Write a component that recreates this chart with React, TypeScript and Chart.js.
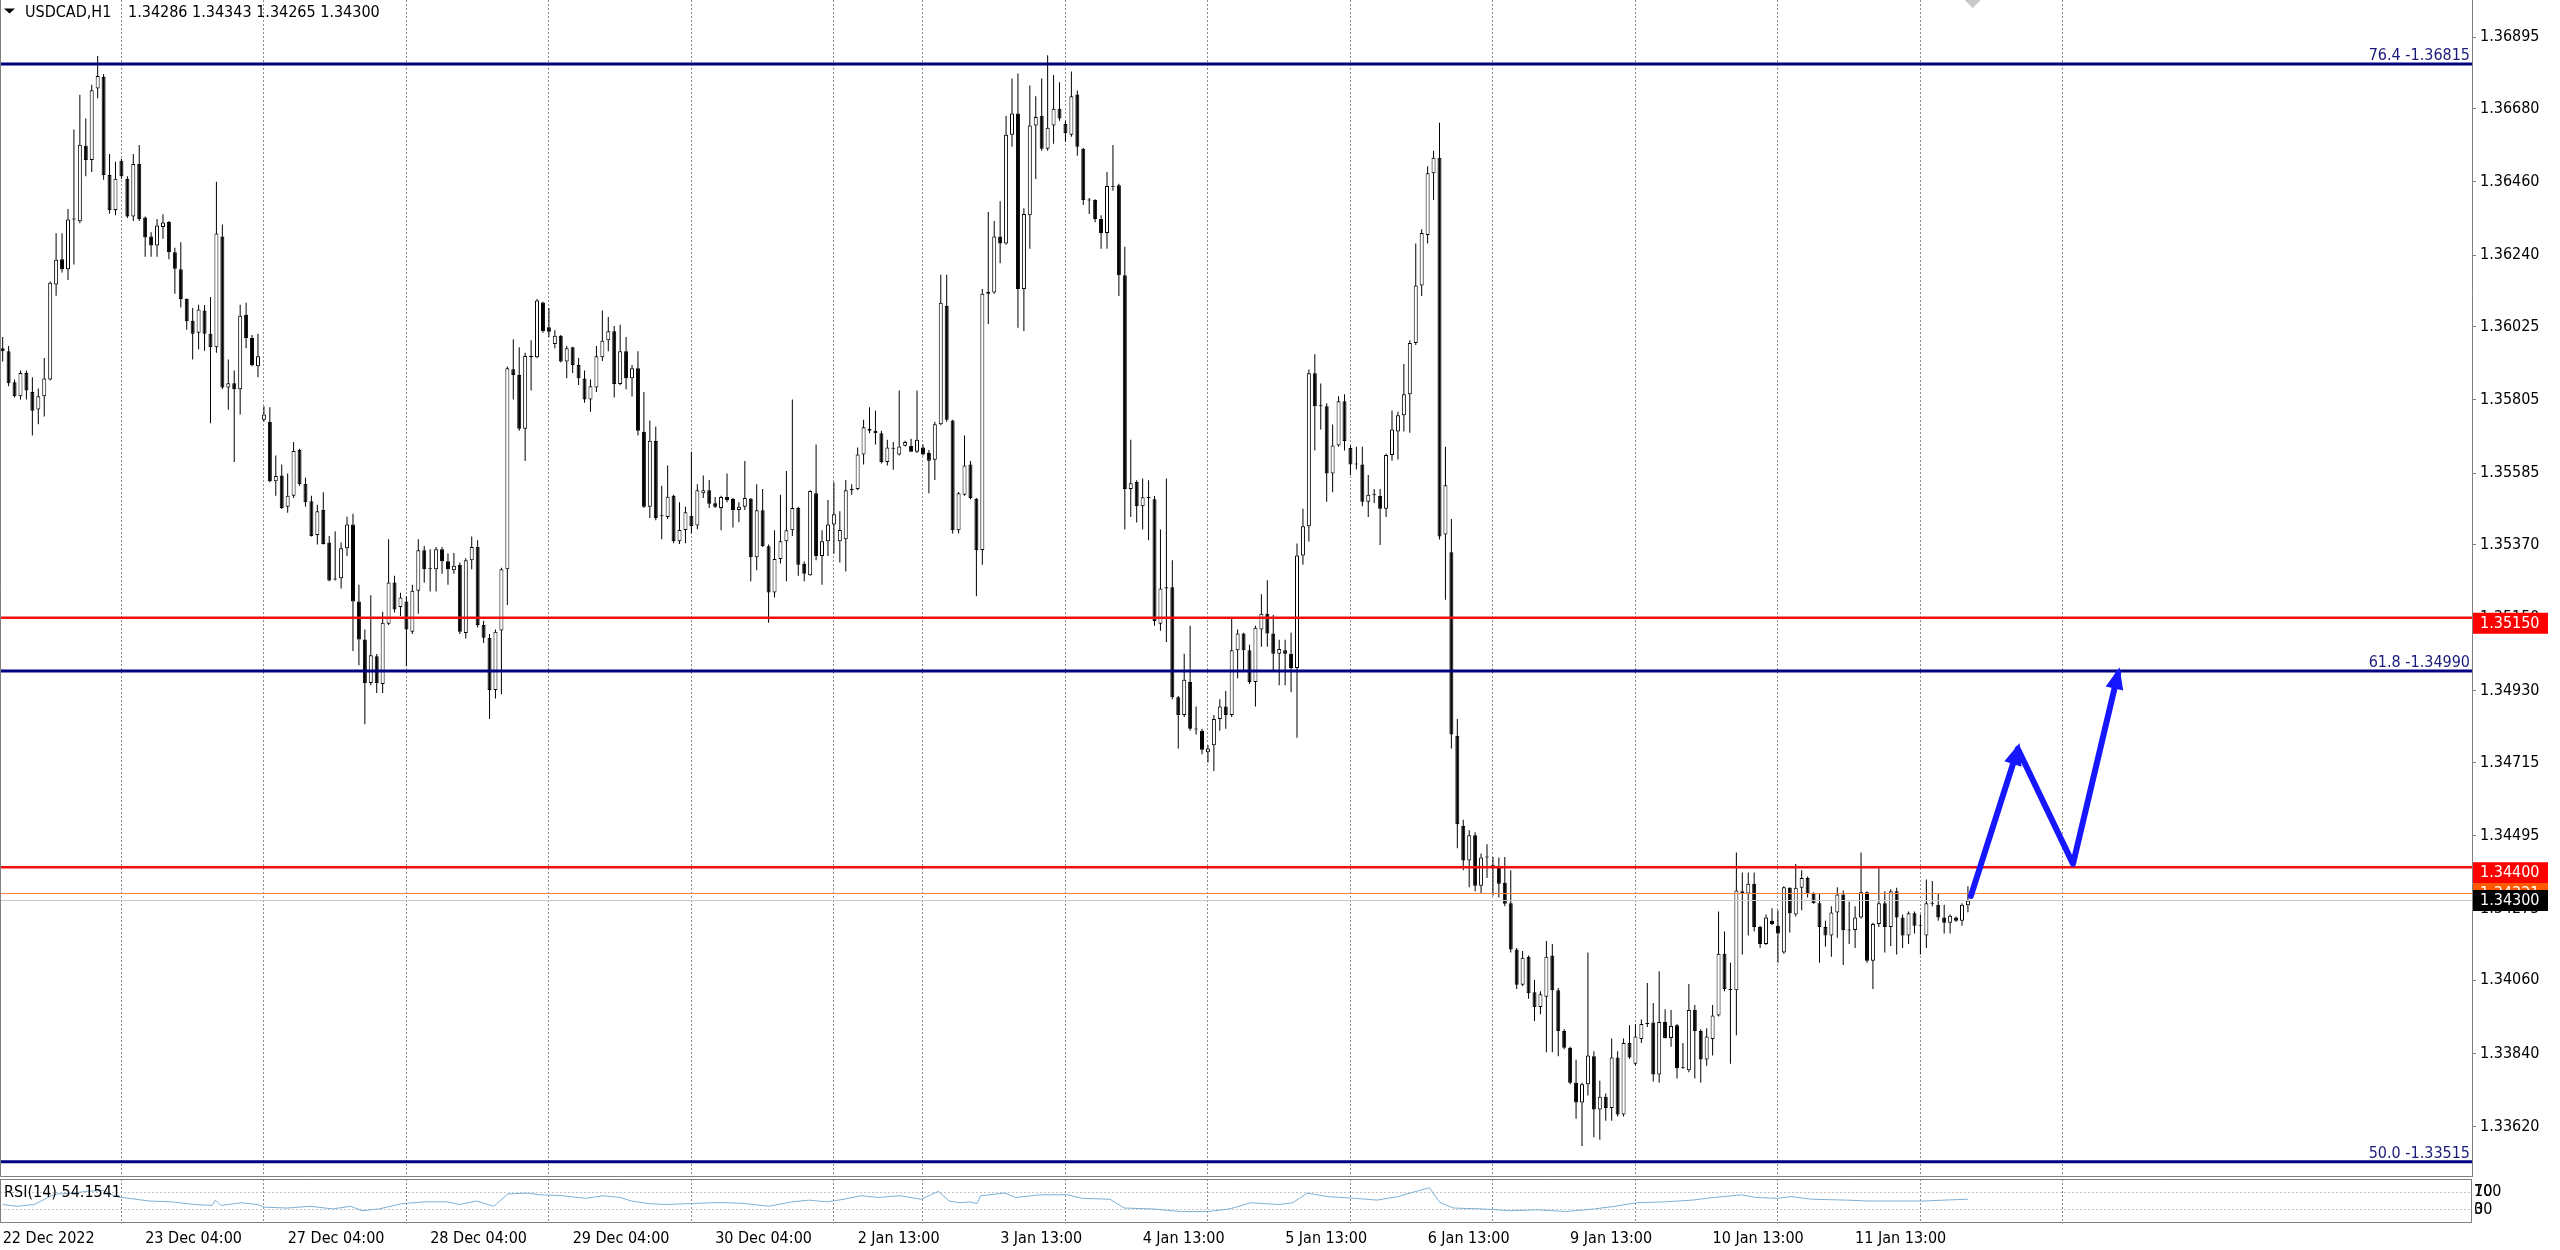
import React, { useEffect, useRef } from 'react';
import { Chart, registerables } from 'chart.js';

Chart.register(...registerables);

const FONT_FAMILY = "'DejaVu Sans Condensed', 'DejaVu Sans', sans-serif";
const FONT_SIZE = 16;

// ---- Candles: USDCAD H1 (bar index 0 = 22 Dec 2022 04:00) ----
const opens = [
1.35960,1.35951,1.35858,1.35816,1.35886,1.35829,1.35776,1.35816,1.35866,1.36152,
1.36228,1.36198,1.36347,1.36342,1.36569,1.36526,1.36741,1.36776,1.36481,1.36376,
1.36524,1.36470,1.36356,1.36514,1.36353,1.36296,1.36269,1.36325,1.36340,1.36249,
1.36198,1.36108,1.36043,1.36007,1.36074,1.36004,1.35963,1.36296,1.35842,1.35855,
1.35837,1.36061,1.35991,1.35906,1.35745,1.35739,1.35560,1.35578,1.35484,1.35517,
1.35654,1.35553,1.35500,1.35399,1.35474,1.35376,1.35266,1.35269,1.35359,1.35430,
1.35199,1.35085,1.34954,1.35034,1.34951,1.35132,1.35256,1.35182,1.35199,1.35108,
1.35231,1.35353,1.35296,1.35296,1.35356,1.35320,1.35293,1.35309,1.35104,1.35323,
1.35363,1.35128,1.35090,1.34933,1.35112,1.35296,1.35897,1.35880,1.35718,1.35937,
1.35933,1.36098,1.36023,1.35973,1.35998,1.35920,1.35963,1.35910,1.35869,1.35806,
1.35842,1.35933,1.35984,1.36011,1.35853,1.35951,1.35870,1.35900,1.35709,1.35484,
1.35681,1.35457,1.35453,1.35517,1.35380,1.35414,1.35457,1.35427,1.35524,1.35533,
1.35494,1.35480,1.35513,1.35508,1.35474,1.35484,1.35508,1.35332,1.35473,1.35365,
1.35226,1.35327,1.35380,1.35413,1.35480,1.35312,1.35278,1.35524,1.35336,1.35380,
1.35430,1.35380,1.35386,1.35533,1.35537,1.35641,1.35718,1.35712,1.35705,1.35618,
1.35658,1.35641,1.35667,1.35667,1.35649,1.35662,1.35645,1.35625,1.35732,1.36087,
1.35743,1.35413,1.35520,1.35611,1.35508,1.35354,1.36124,1.36128,1.36296,1.36275,
1.36602,1.36666,1.36138,1.36360,1.36630,1.36659,1.36560,1.36630,1.36680,1.36634,
1.36602,1.36723,1.36560,1.36406,1.36406,1.36349,1.36307,1.36448,1.36450,1.36180,
1.35537,1.35558,1.35485,1.35512,1.35506,1.35132,1.35238,1.35242,1.34911,1.34858,
1.34957,1.34816,1.34810,1.34746,1.34767,1.34846,1.34883,1.34858,1.35052,1.35103,
1.35052,1.34957,1.35115,1.35162,1.35103,1.35042,1.35052,1.35042,1.34999,1.35337,
1.35425,1.35885,1.35786,1.35786,1.35584,1.35668,1.35801,1.35660,1.35611,1.35611,
1.35499,1.35520,1.35516,1.35478,1.35639,1.35710,1.35759,1.35822,1.35976,1.36149,
1.36301,1.36486,1.36533,1.35400,1.35347,1.34795,1.34524,1.34420,1.34496,1.34344,
1.34429,1.34406,1.34401,1.34353,1.34292,1.34153,1.34047,1.34131,1.34024,1.33980,
1.34011,1.34135,1.34030,1.33908,1.33857,1.33752,1.33693,1.33748,1.33832,1.33672,
1.33710,1.33676,1.33828,1.33657,1.33872,1.33809,1.33884,1.33929,1.33933,1.33777,
1.33935,1.33887,1.33925,1.33796,1.33790,1.33971,1.33908,1.33822,1.33884,1.33954,
1.34140,1.34034,1.34030,1.34328,1.34321,1.34350,1.34220,1.34169,1.34239,1.34224,
1.34144,1.34338,1.34258,1.34338,1.34368,1.34321,1.34292,1.34220,1.34195,1.34264,
1.34318,1.34211,1.34211,1.34249,1.34325,1.34119,1.34229,1.34292,1.34220,1.34328,
1.34249,1.34195,1.34262,1.34224,1.34195,1.34292,1.34287,1.34249,1.34233,1.34249,
1.34239,1.34286];

const highs = [
1.35994,1.35967,1.35866,1.35893,1.35893,1.35873,1.35839,1.35931,1.36161,1.36306,
1.36306,1.36379,1.36618,1.36722,1.36651,1.36752,1.36839,1.36785,1.36544,1.36521,
1.36530,1.36477,1.36544,1.36571,1.36356,1.36309,1.36349,1.36363,1.36343,1.36262,
1.36279,1.36110,1.36081,1.36091,1.36090,1.36114,1.36461,1.36332,1.35926,1.35893,
1.36091,1.36097,1.36000,1.36004,1.35786,1.35783,1.35638,1.35611,1.35584,1.35678,
1.35658,1.35571,1.35517,1.35490,1.35527,1.35396,1.35410,1.35376,1.35454,1.35463,
1.35249,1.35115,1.35218,1.35041,1.35168,1.35386,1.35276,1.35225,1.35215,1.35249,
1.35386,1.35366,1.35356,1.35363,1.35363,1.35343,1.35345,1.35316,1.35329,1.35394,
1.35383,1.35141,1.35101,1.35115,1.35300,1.35905,1.35987,1.35963,1.35947,1.35984,
1.36108,1.36100,1.36081,1.36014,1.36000,1.35967,1.35965,1.35931,1.35893,1.35866,
1.35967,1.36074,1.36054,1.36027,1.36031,1.35994,1.35910,1.35951,1.35829,1.35743,
1.35725,1.35547,1.35608,1.35520,1.35497,1.35484,1.35649,1.35551,1.35578,1.35564,
1.35513,1.35517,1.35584,1.35510,1.35497,1.35621,1.35510,1.35551,1.35537,1.35370,
1.35413,1.35520,1.35591,1.35806,1.35484,1.35319,1.35533,1.35671,1.35413,1.35504,
1.35557,1.35470,1.35564,1.35551,1.35662,1.35745,1.35783,1.35772,1.35712,1.35685,
1.35678,1.35833,1.35682,1.35688,1.35833,1.35671,1.35654,1.35739,1.36181,1.36181,
1.35745,1.35528,1.35698,1.35621,1.35510,1.36138,1.36370,1.36343,1.36402,1.36659,
1.36771,1.36786,1.36381,1.36750,1.36718,1.36771,1.36841,1.36782,1.36760,1.36644,
1.36792,1.36735,1.36562,1.36412,1.36408,1.36360,1.36490,1.36571,1.36455,1.36265,
1.35685,1.35563,1.35569,1.35563,1.35516,1.35415,1.35569,1.35323,1.34915,1.35042,
1.35126,1.34883,1.34816,1.34767,1.34858,1.34905,1.34930,1.35147,1.35115,1.35105,
1.35069,1.35126,1.35221,1.35263,1.35158,1.35084,1.35084,1.35105,1.35373,1.35478,
1.35896,1.35942,1.35854,1.35795,1.35731,1.35816,1.35822,1.35668,1.35664,1.35664,
1.35579,1.35537,1.35537,1.35643,1.35773,1.35769,1.35913,1.35984,1.36275,1.36318,
1.36507,1.36554,1.36638,1.35664,1.35447,1.34846,1.34543,1.34511,1.34505,1.34441,
1.34469,1.34431,1.34429,1.34431,1.34391,1.34157,1.34148,1.34135,1.34062,1.34027,
1.34178,1.34169,1.34037,1.33913,1.33860,1.33821,1.33752,1.34144,1.33847,1.33758,
1.33720,1.33885,1.33847,1.33885,1.33925,1.33929,1.33942,1.34052,1.33992,1.34087,
1.33973,1.33971,1.33929,1.33872,1.34049,1.33986,1.33913,1.33916,1.33986,1.34267,
1.34207,1.34113,1.34444,1.34384,1.34384,1.34384,1.34224,1.34258,1.34277,1.34271,
1.34343,1.34340,1.34410,1.34391,1.34372,1.34325,1.34321,1.34239,1.34283,1.34340,
1.34330,1.34296,1.34283,1.34444,1.34328,1.34233,1.34397,1.34328,1.34334,1.34338,
1.34258,1.34267,1.34267,1.34258,1.34363,1.34359,1.34321,1.34287,1.34258,1.34252,
1.34292,1.34343];

const lows = [
1.35920,1.35846,1.35812,1.35806,1.35806,1.35698,1.35732,1.35755,1.35863,1.36118,
1.36188,1.36165,1.36212,1.36336,1.36477,1.36490,1.36712,1.36467,1.36365,1.36360,
1.36470,1.36352,1.36343,1.36343,1.36235,1.36235,1.36235,1.36289,1.36228,1.36124,
1.36083,1.36016,1.35926,1.35957,1.35953,1.35735,1.35947,1.35837,1.35775,1.35618,
1.35761,1.35960,1.35906,1.35873,1.35739,1.35557,1.35517,1.35477,1.35466,1.35510,
1.35547,1.35484,1.35394,1.35370,1.35370,1.35260,1.35262,1.35238,1.35336,1.35050,
1.35007,1.34830,1.34947,1.34924,1.34924,1.35128,1.35166,1.35155,1.35004,1.35101,
1.35162,1.35255,1.35229,1.35229,1.35282,1.35249,1.35282,1.35101,1.35088,1.35296,
1.35121,1.35074,1.34846,1.34907,1.34920,1.35188,1.35806,1.35712,1.35621,1.35833,
1.35930,1.36007,1.35994,1.35960,1.35917,1.35870,1.35886,1.35850,1.35796,1.35769,
1.35829,1.35922,1.35951,1.35812,1.35849,1.35837,1.35815,1.35698,1.35480,1.35450,
1.35443,1.35386,1.35447,1.35374,1.35372,1.35374,1.35403,1.35416,1.35510,1.35480,
1.35480,1.35413,1.35497,1.35421,1.35437,1.35474,1.35260,1.35293,1.35363,1.35135,
1.35211,1.35313,1.35260,1.35396,1.35276,1.35260,1.35276,1.35323,1.35249,1.35336,
1.35343,1.35316,1.35289,1.35520,1.35533,1.35611,1.35705,1.35671,1.35614,1.35608,
1.35595,1.35638,1.35665,1.35649,1.35645,1.35638,1.35524,1.35564,1.35729,1.35739,
1.35403,1.35403,1.35517,1.35506,1.35215,1.35309,1.36033,1.36124,1.36216,1.36271,
1.36566,1.36022,1.36012,1.36259,1.36469,1.36554,1.36554,1.36575,1.36644,1.36581,
1.36596,1.36539,1.36391,1.36364,1.36339,1.36259,1.36259,1.36434,1.36117,1.35415,
1.35453,1.35436,1.35415,1.35383,1.35126,1.35111,1.35077,1.34905,1.34757,1.34852,
1.34810,1.34799,1.34740,1.34715,1.34689,1.34810,1.34816,1.34852,1.34968,1.34993,
1.34951,1.34883,1.35063,1.35063,1.34993,1.34947,1.34947,1.34926,1.34789,1.35309,
1.35379,1.35653,1.35716,1.35499,1.35527,1.35664,1.35653,1.35579,1.35596,1.35485,
1.35453,1.35495,1.35369,1.35453,1.35622,1.35626,1.35710,1.35706,1.35970,1.36117,
1.36275,1.36406,1.35385,1.35204,1.34757,1.34457,1.34391,1.34340,1.34328,1.34321,
1.34368,1.34315,1.34309,1.34283,1.34144,1.34034,1.34043,1.34005,1.33938,1.33958,
1.33844,1.33844,1.33832,1.33853,1.33748,1.33644,1.33562,1.33714,1.33588,1.33581,
1.33638,1.33638,1.33651,1.33651,1.33824,1.33803,1.33872,1.33920,1.33756,1.33752,
1.33885,1.33860,1.33765,1.33794,1.33784,1.33765,1.33752,1.33803,1.33834,1.33951,
1.34027,1.33809,1.33895,1.34138,1.34195,1.34207,1.34157,1.34166,1.34226,1.34113,
1.34140,1.34204,1.34252,1.34271,1.34309,1.34290,1.34113,1.34161,1.34131,1.34188,
1.34106,1.34169,1.34157,1.34245,1.34113,1.34034,1.34220,1.34144,1.34163,1.34138,
1.34157,1.34169,1.34201,1.34138,1.34157,1.34283,1.34239,1.34201,1.34201,1.34236,
1.34224,1.34265];

const closes = [
1.35951,1.35855,1.35816,1.35886,1.35833,1.35772,1.35816,1.35869,1.36157,1.36226,
1.36198,1.36347,1.36349,1.36572,1.36526,1.36736,1.36779,1.36481,1.36376,1.36470,
1.36477,1.36356,1.36514,1.36349,1.36293,1.36269,1.36329,1.36338,1.36249,1.36199,
1.36108,1.36041,1.36004,1.36077,1.36004,1.35964,1.36305,1.35842,1.35855,1.35837,
1.36058,1.35991,1.35909,1.35936,1.35761,1.35560,1.35576,1.35480,1.35517,1.35651,
1.35551,1.35497,1.35396,1.35470,1.35372,1.35262,1.35265,1.35359,1.35430,1.35199,
1.35085,1.34954,1.35037,1.34954,1.35135,1.35256,1.35175,1.35211,1.35115,1.35231,
1.35353,1.35296,1.35297,1.35356,1.35320,1.35296,1.35306,1.35108,1.35323,1.35363,
1.35128,1.35090,1.34933,1.35108,1.35296,1.35900,1.35880,1.35718,1.35937,1.35933,
1.36104,1.36011,1.36010,1.35998,1.35920,1.35960,1.35910,1.35870,1.35806,1.35846,
1.35936,1.35983,1.36011,1.35853,1.35951,1.35870,1.35900,1.35712,1.35484,1.35682,
1.35450,1.35455,1.35514,1.35380,1.35414,1.35467,1.35426,1.35533,1.35533,1.35493,
1.35484,1.35513,1.35504,1.35474,1.35484,1.35510,1.35332,1.35473,1.35365,1.35226,
1.35327,1.35380,1.35413,1.35480,1.35309,1.35282,1.35531,1.35336,1.35380,1.35430,
1.35461,1.35414,1.35533,1.35537,1.35641,1.35723,1.35712,1.35705,1.35618,1.35662,
1.35660,1.35665,1.35678,1.35649,1.35685,1.35641,1.35622,1.35732,1.36097,1.35745,
1.35413,1.35524,1.35608,1.35510,1.35353,1.36124,1.36130,1.36296,1.36275,1.36602,
1.36666,1.36138,1.36364,1.36630,1.36655,1.36560,1.36623,1.36680,1.36651,1.36607,
1.36718,1.36566,1.36406,1.36404,1.36349,1.36307,1.36448,1.36446,1.36180,1.35537,
1.35554,1.35485,1.35512,1.35510,1.35140,1.35238,1.35242,1.34911,1.34858,1.34964,
1.34816,1.34814,1.34753,1.34757,1.34846,1.34883,1.34858,1.35052,1.35103,1.35052,
1.34957,1.35120,1.35162,1.35103,1.35042,1.35056,1.35042,1.34999,1.35337,1.35425,
1.35885,1.35786,1.35788,1.35584,1.35668,1.35801,1.35681,1.35611,1.35613,1.35499,
1.35520,1.35518,1.35478,1.35639,1.35716,1.35759,1.35822,1.35976,1.36149,1.36307,
1.36486,1.36533,1.35394,1.35548,1.34799,1.34529,1.34420,1.34496,1.34344,1.34429,
1.34430,1.34401,1.34350,1.34290,1.34153,1.34047,1.34128,1.34021,1.33980,1.34018,
1.34131,1.34030,1.33908,1.33857,1.33752,1.33693,1.33748,1.33834,1.33672,1.33710,
1.33676,1.33828,1.33657,1.33872,1.33828,1.33891,1.33929,1.33932,1.33777,1.33935,
1.33887,1.33923,1.33796,1.33798,1.33971,1.33908,1.33822,1.33891,1.33954,1.34140,
1.34034,1.34030,1.34330,1.34321,1.34350,1.34220,1.34169,1.34249,1.34229,1.34201,
1.34340,1.34262,1.34338,1.34368,1.34321,1.34292,1.34220,1.34195,1.34264,1.34318,
1.34211,1.34210,1.34249,1.34325,1.34119,1.34229,1.34292,1.34220,1.34328,1.34249,
1.34195,1.34262,1.34224,1.34226,1.34292,1.34290,1.34249,1.34233,1.34254,1.34239,
1.34287,1.34300];

// ---- RSI(14) (x = bar index) ----
const rsiX = [0,2.4,5.3,8.2,9.2,12,14,17,19,21.3,24.7,28.5,32.4,35.3,35.8,36.8,40.2,43,44,47.9,
51.8,55.6,58.6,60.5,63.4,67.2,71.1,75,76.9,79.8,82.7,85.1,88.5,90.5,94.3,98.2,101.1,104,105.9,108.8,
111.7,115.6,119.4,122.3,125.2,129.1,132.9,135.8,138.8,141.7,144.6,147.5,151.1,154.7,157.6,159.4,161.2,162.9,164.1,164.7,
168.8,170.6,174.7,179.4,181.8,186.5,188.9,193.7,198.4,203.1,206.7,210.2,214.9,217.3,219.7,223.2,227.9,231.5,235,238.6,
240.3,242.1,244.4,249.1,253.9,258.6,263.3,268.1,271.6,275.2,279.9,284.6,288.2,292.9,295.3,298.8,301.2,304.7,310.6,314.2,
318.9,323.6,327.1,331];
const rsiY = [42,38,42,62,66,68,72,74,60,56,50,48,42,40,52,40,46,42,36,34,
38,32,38,28,32,44,48,48,42,50,38,66,68,64,62,56,62,58,50,44,
42,44,46,46,44,38,48,52,48,54,62,58,62,54,72,50,46,48,44,62,
68,58,64,64,56,54,34,32,26,26,32,46,42,46,68,60,56,52,60,74,
80,46,34,32,28,30,26,32,38,46,48,52,58,64,58,56,60,54,52,50,
50,50,52,54.15];
const rsiLevels = [70, 30];

// ---- Axis ticks ----
const priceTicks = [1.36895,1.36680,1.36460,1.36240,1.36025,1.35805,1.35585,1.35370,1.35150,
1.34930,1.34715,1.34495,1.34275,1.34060,1.33840,1.33620];
const timeLabelIdx = [0,24,48,72,96,120,144,168,192,216,240,264,288,312];
const timeLabels = ['22 Dec 2022','23 Dec 04:00','27 Dec 04:00','28 Dec 04:00','29 Dec 04:00','30 Dec 04:00',
'2 Jan 13:00','3 Jan 13:00','4 Jan 13:00','5 Jan 13:00','6 Jan 13:00','9 Jan 13:00','10 Jan 13:00','11 Jan 13:00'];
const daySeparatorIdx = [20,44,68,92,116,140,155,179,203,227,251,275,299,323,347];

// ---- Objects ----
const fibRatios = ['76.4','61.8','50.0'];
const fibPrices = [1.36815, 1.34990, 1.33515];
const redLevels = [1.35150, 1.34400];
const bidPrice = 1.34300;
const askPrice = 1.34321;
const arrowX = [331.5, 339.4, 348.7, 356.3];
const arrowY = [1.34314, 1.34756, 1.34410, 1.34984];
const shiftMarkerIdx = 331.8;
const headerSymbol = 'USDCAD,H1';
const headerOHLC = '1.34286 1.34343 1.34265 1.34300';
const rsiTitle = 'RSI(14) 54.1541';

const X_MIN = -0.45;
const X_MAX = 415.9;
const Y_MIN = 1.334688;
const Y_MAX = 1.370071;
const W = 2560;
const MAIN_H = 1177;
const SUB_H = 73;
const AXIS_W = 88;
const GRID_COLOR = '#8c8c8c';
const FRAME_COLOR = '#808080';
const NAVY = '#000080';
const RED = '#f01010';
const ARROW_COLOR = '#1717ff';

const noPadFit = (w?: number, h?: number) => (s: any) => {
  if (w !== undefined) s.width = w;
  if (h !== undefined) s.height = h;
  s.paddingTop = 0;
  s.paddingBottom = 0;
  s.paddingLeft = 0;
  s.paddingRight = 0;
};

export default function App() {
  const mainRef = useRef<HTMLCanvasElement>(null);
  const subRef = useRef<HTMLCanvasElement>(null);

  useEffect(() => {
    const font = { family: FONT_FAMILY, size: FONT_SIZE };
    const fontStr = `${FONT_SIZE}px ${FONT_FAMILY}`;
    const idx = closes.map((_, i) => i);
    const hline = (v: number) => [{ x: X_MIN, y: v }, { x: X_MAX, y: v }];

    const lineDs = (label: string, v: number, color: string, width: number, order: number) => ({
      type: 'line' as const, label, data: hline(v), borderColor: color, borderWidth: width,
      pointRadius: 0, order,
    });

    const mainPlugin = {
      id: 'mtDecor',
      afterDatasetsDraw(chart: any) {
        const { ctx, chartArea, scales } = chart;
        const ys = scales.y;
        const xs = scales.x;
        ctx.save();
        // arrow heads
        const meta = chart.getDatasetMeta(chart.data.datasets.findIndex((d: any) => d.label === 'arrow'));
        const pts = meta.data;
        [1, 3].forEach((k) => {
          const a = pts[k - 1], b = pts[k];
          const dx = b.x - a.x, dy = b.y - a.y;
          const len = Math.hypot(dx, dy);
          const ux = dx / len, uy = dy / len;
          const tipX = b.x + ux * 6, tipY = b.y + uy * 6;
          const bx = b.x - ux * 16, by = b.y - uy * 16;
          ctx.beginPath();
          ctx.moveTo(tipX, tipY);
          ctx.lineTo(bx - uy * 9, by + ux * 9);
          ctx.lineTo(bx + uy * 9, by - ux * 9);
          ctx.closePath();
          ctx.fillStyle = ARROW_COLOR;
          ctx.fill();
        });
        // chart-shift marker at the top
        const sx = xs.getPixelForValue(shiftMarkerIdx);
        ctx.fillStyle = '#c8c8c8';
        ctx.beginPath();
        ctx.moveTo(sx - 8, 0); ctx.lineTo(sx + 8, 0); ctx.lineTo(sx, 8); ctx.closePath();
        ctx.fill();
        // fib labels
        ctx.font = fontStr;
        ctx.fillStyle = '#1a1a7a';
        ctx.textAlign = 'right';
        ctx.textBaseline = 'alphabetic';
        fibPrices.forEach((p, i) => {
          const y = ys.getPixelForValue(p);
          ctx.fillText(`${fibRatios[i]} -${p.toFixed(5)}`, chartArea.right - 2, y - 4);
        });
        // header
        ctx.fillStyle = '#000';
        ctx.textAlign = 'left';
        ctx.beginPath();
        ctx.moveTo(4, 8.5); ctx.lineTo(15, 8.5); ctx.lineTo(9.5, 13.5); ctx.closePath();
        ctx.fill();
        ctx.fillText(headerSymbol, 25, 17);
        ctx.fillText(headerOHLC, 128, 17);
        ctx.restore();
      },
      afterDraw(chart: any) {
        const { ctx, chartArea, scales } = chart;
        const ys = scales.y;
        ctx.save();
        // frame (left + bottom)
        ctx.strokeStyle = FRAME_COLOR;
        ctx.lineWidth = 1;
        ctx.beginPath();
        ctx.moveTo(chartArea.left + 0.5, chartArea.top);
        ctx.lineTo(chartArea.left + 0.5, chartArea.bottom - 0.5);
        ctx.lineTo(chartArea.right, chartArea.bottom - 0.5);
        ctx.stroke();
        // price label boxes
        ctx.font = fontStr;
        ctx.textAlign = 'left';
        ctx.textBaseline = 'middle';
        const bx = chartArea.right + 1;
        const bw = 75;
        redLevels.forEach((p) => {
          const y = ys.getPixelForValue(p);
          ctx.fillStyle = '#ff0000';
          ctx.fillRect(bx, y - 5, bw, 21);
          ctx.fillStyle = '#fff';
          ctx.fillText(p.toFixed(5), chartArea.right + 8, y + 6);
        });
        const ya = ys.getPixelForValue(askPrice);
        ctx.fillStyle = '#ff5a00';
        ctx.fillRect(bx, ya - 10.5, bw, 21);
        ctx.fillStyle = '#fff';
        ctx.fillText(askPrice.toFixed(5), chartArea.right + 8, ya + 0.5);
        const yb = ys.getPixelForValue(bidPrice);
        ctx.fillStyle = '#000';
        ctx.fillRect(bx, yb - 10.5, bw, 21);
        ctx.fillStyle = '#fff';
        ctx.fillText(bidPrice.toFixed(5), chartArea.right + 8, yb + 0.5);
        ctx.restore();
      },
    };

    const main = new Chart(mainRef.current as HTMLCanvasElement, {
      type: 'bar',
      data: {
        datasets: [
          {
            type: 'bar', label: 'wicks',
            data: idx.map((i) => ({ x: i, y: [lows[i], highs[i]] })) as any,
            backgroundColor: '#000', barThickness: 1, grouped: false, order: 6, inflateAmount: 0,
          } as any,
          {
            type: 'bar', label: 'bodies',
            data: idx.map((i) => ({ x: i, y: [opens[i], closes[i]] })) as any,
            backgroundColor: idx.map((i) => (closes[i] >= opens[i] ? '#ffffff' : '#000000')),
            borderColor: '#000', borderWidth: 1, borderSkipped: false, barThickness: 4,
            minBarLength: 1, grouped: false, order: 5, inflateAmount: 0,
          } as any,
          lineDs('bid', bidPrice, '#c8c8c8', 1, 4),
          lineDs('ask', askPrice, '#ff8040', 1, 4),
          ...fibPrices.map((p, i) => lineDs('fib' + fibRatios[i], p, NAVY, 3, 3)),
          ...redLevels.map((p) => lineDs('level' + p, p, RED, 2.5, 3)),
          {
            type: 'line', label: 'arrow',
            data: arrowX.map((x, i) => ({ x, y: arrowY[i] })),
            borderColor: ARROW_COLOR, borderWidth: 6, pointRadius: 0, order: 1,
            borderJoinStyle: 'round', borderCapStyle: 'round', tension: 0,
          } as any,
        ],
      },
      options: {
        responsive: false,
        animation: false,
        events: [],
        layout: { padding: 0 },
        plugins: { legend: { display: false }, tooltip: { enabled: false } },
        scales: {
          x: {
            type: 'linear', min: X_MIN, max: X_MAX, offset: false, position: 'bottom',
            afterBuildTicks: (s: any) => { s.ticks = daySeparatorIdx.map((v) => ({ value: v })); },
            afterFit: noPadFit(undefined, 0),
            ticks: { display: false },
            grid: { display: true, offset: false, drawOnChartArea: true, drawTicks: false, color: GRID_COLOR, lineWidth: 1, borderDash: [2, 2] } as any,
            border: { display: false, dash: [2, 2] },
          },
          y: {
            type: 'linear', position: 'right', min: Y_MIN, max: Y_MAX,
            afterBuildTicks: (s: any) => { s.ticks = priceTicks.map((v) => ({ value: v })); },
            afterFit: noPadFit(AXIS_W, undefined),
            ticks: {
              autoSkip: false, padding: 4, color: '#000', font,
              callback: (v: any) => Number(v).toFixed(5),
            },
            grid: { drawOnChartArea: false, drawTicks: true, tickLength: 4, tickColor: '#808080' },
            border: { display: true, color: FRAME_COLOR, width: 1 },
          },
        },
      },
      plugins: [mainPlugin],
    } as any);

    const subPlugin = {
      id: 'rsiDecor',
      afterDraw(chart: any) {
        const { ctx, chartArea, scales } = chart;
        const ys = scales.y;
        ctx.save();
        ctx.strokeStyle = FRAME_COLOR;
        ctx.lineWidth = 1;
        ctx.strokeRect(chartArea.left + 0.5, chartArea.top + 0.5, chartArea.width - 1, chartArea.height - 1);
        ctx.font = fontStr;
        ctx.fillStyle = '#000';
        ctx.textAlign = 'left';
        ctx.textBaseline = 'middle';
        ctx.fillText(rsiTitle, 4, ys.getPixelForValue(70) + 1);
        // MetaTrader squeezes the 100 / 0 labels onto the 70 / 30 rows
        ctx.fillText('100', chartArea.right + 2, ys.getPixelForValue(70));
        ctx.fillText('0', chartArea.right + 2, ys.getPixelForValue(30));
        ctx.restore();
      },
    };

    const sub = new Chart(subRef.current as HTMLCanvasElement, {
      type: 'line',
      data: {
        datasets: [
          {
            label: 'RSI', data: rsiX.map((x, i) => ({ x, y: rsiY[i] })),
            borderColor: '#7fb0d2', borderWidth: 1, pointRadius: 0, tension: 0,
          },
        ],
      },
      options: {
        responsive: false,
        animation: false,
        events: [],
        layout: { padding: { top: 2, left: 0, right: 0, bottom: 0 } },
        plugins: { legend: { display: false }, tooltip: { enabled: false } },
        scales: {
          x: {
            type: 'linear', min: X_MIN, max: X_MAX, offset: false, position: 'bottom',
            afterBuildTicks: (s: any) => { s.ticks = timeLabelIdx.map((v) => ({ value: v })); },
            afterFit: noPadFit(undefined, SUB_H - 46),
            ticks: {
              autoSkip: false, maxRotation: 0, minRotation: 0, align: 'start', padding: 6,
              color: '#000', font,
              callback: (_v: any, i: number) => timeLabels[i],
            },
            grid: { display: false, drawTicks: false },
            border: { display: false },
          },
          xg: {
            type: 'linear', min: X_MIN, max: X_MAX, offset: false, position: 'bottom',
            afterBuildTicks: (s: any) => { s.ticks = daySeparatorIdx.map((v) => ({ value: v })); },
            afterFit: noPadFit(undefined, 0),
            ticks: { display: false },
            grid: { display: true, offset: false, drawTicks: false, color: GRID_COLOR, lineWidth: 1, borderDash: [2, 2] } as any,
            border: { display: false, dash: [2, 2] },
          },
          y: {
            type: 'linear', position: 'right', min: 0, max: 100,
            afterBuildTicks: (s: any) => { s.ticks = rsiLevels.map((v) => ({ value: v })); },
            afterFit: noPadFit(AXIS_W, undefined),
            ticks: { autoSkip: false, padding: 2, color: '#000', font, callback: (v: any) => String(v) },
            grid: { drawTicks: false, color: '#c4c4c4', borderDash: [2, 2] } as any,
            border: { display: false, dash: [2, 2] },
          },
        },
      },
      plugins: [subPlugin],
    } as any);

    return () => {
      main.destroy();
      sub.destroy();
    };
  }, []);

  return (
    <div style={{ position: 'absolute', left: 0, top: 0, width: W, height: MAIN_H + SUB_H, background: '#fff', overflow: 'hidden' }}>
      <canvas ref={mainRef} width={W} height={MAIN_H} style={{ position: 'absolute', left: 0, top: 0, width: W, height: MAIN_H }} />
      <canvas ref={subRef} width={W} height={SUB_H} style={{ position: 'absolute', left: 0, top: MAIN_H, width: W, height: SUB_H }} />
    </div>
  );
}
